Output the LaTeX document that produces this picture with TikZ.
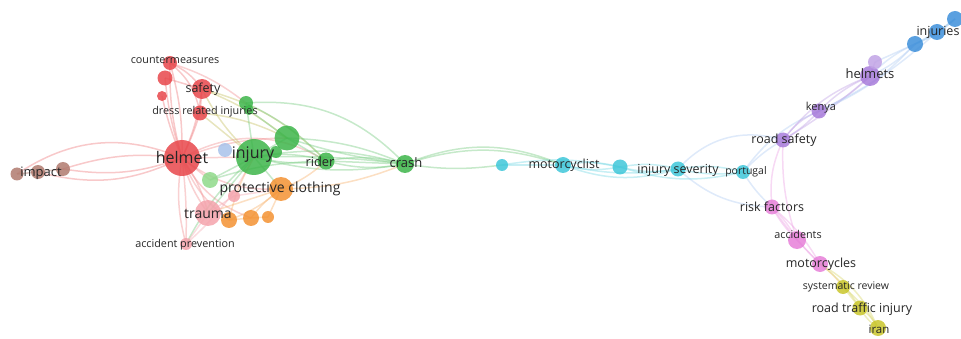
\documentclass[tikz,border=0pt]{standalone}
\usepackage{fontspec}
\setmainfont{Open Sans}
\begin{document}
\begin{tikzpicture}[x=1pt,y=1pt,
  e/.style={line width=1.5pt, draw opacity=0.42},
  vn/.style={circle, inner sep=0pt, fill opacity=0.85, draw=none},
  lb/.style={text=black!85, inner sep=0pt, font=\fontsize{#1}{#1}\selectfont},
  lb/.default=12.5]
\definecolor{cred}{HTML}{E8474B}
\definecolor{cbrown}{HTML}{B07A6E}
\definecolor{cgreen}{HTML}{3DB54A}
\definecolor{clgreen}{HTML}{8FD98A}
\definecolor{clblue}{HTML}{A8C2EA}
\definecolor{corange}{HTML}{F39232}
\definecolor{cpink}{HTML}{F4A3AC}
\definecolor{ccyan}{HTML}{3FC7D9}
\definecolor{cpurple}{HTML}{A77BDA}
\definecolor{cblue}{HTML}{3D8FDA}
\definecolor{cmag}{HTML}{E67FD8}
\definecolor{colive}{HTML}{C9C62B}
\definecolor{cskye}{HTML}{9FC0F0}
\useasboundingbox (0,0) rectangle (961,-339);
% coordinates
\coordinate (helmet) at (182,-158);
\coordinate (cm) at (170,-63);
\coordinate (r2) at (165,-78);
\coordinate (r3) at (162,-96);
\coordinate (safety) at (202,-89);
\coordinate (dress) at (200,-113);
\coordinate (im1) at (17,-174);
\coordinate (im2) at (38,-172);
\coordinate (im3) at (63,-169);
\coordinate (lbn) at (225,-150);
\coordinate (injury) at (254,-157);
\coordinate (g2) at (287,-138);
\coordinate (g3) at (276,-152);
\coordinate (g4) at (246,-103);
\coordinate (g5) at (249,-110);
\coordinate (rider) at (326,-161);
\coordinate (crash) at (405,-164);
\coordinate (lg) at (210,-180);
\coordinate (pc) at (281,-189);
\coordinate (o1) at (229,-220);
\coordinate (o2) at (251,-218);
\coordinate (o3) at (268,-217);
\coordinate (trauma) at (208,-213);
\coordinate (pk) at (234,-196);
\coordinate (ap) at (186,-244);
\coordinate (c1) at (502,-165);
\coordinate (mc) at (563,-165);
\coordinate (c3) at (620,-167);
\coordinate (is) at (678,-169);
\coordinate (pt) at (743,-172);
\coordinate (rs) at (783,-140);
\coordinate (ke) at (819,-111);
\coordinate (hs) at (870,-76);
\coordinate (hs2) at (875,-62);
\coordinate (in1) at (915,-44);
\coordinate (in2) at (937,-32);
\coordinate (in3) at (955,-19);
\coordinate (rf) at (772,-207);
\coordinate (ac) at (797,-240);
\coordinate (mcs) at (820,-264);
\coordinate (sr) at (843,-287);
\coordinate (rti) at (860,-308);
\coordinate (ir) at (878,-328);
% edges: brown/red
\draw[e,cred!70] (helmet) to[bend right=28] (im1);
\draw[e,cred!70] (helmet) to[bend right=12] (im3);
\draw[e,cred!70] (helmet) to[bend left=14] (im3);
\draw[e,cred!70] (helmet) to[bend left=20] (im2);
\draw[e,cbrown] (im1) -- (im2) -- (im3);
\draw[e,cred!70] (helmet) to[bend left=8] (cm);
\draw[e,cred!70] (helmet) to[bend right=8] (cm);
\draw[e,cred!70] (helmet) to[bend left=6] (r2);
\draw[e,cred!70] (helmet) to[bend left=5] (r3);
\draw[e,cred!70] (helmet) to[bend right=8] (safety);
\draw[e,cred!70] (helmet) to[bend right=4] (dress);
\draw[e,cred!70] (cm) to[bend left=15] (safety);
\draw[e,cred!70] (r2) -- (safety);
\draw[e,cred!70] (safety) -- (dress);
\draw[e,cred!70] (cm) to[bend left=20] (dress);
\draw[e,cred!60] (helmet) -- (injury);
\draw[e,cred!60] (helmet) to[bend left=30] (rider);
\draw[e,cred!60] (helmet) to[bend right=20] (pc);
\draw[e,cred!60] (helmet) to[bend right=10] (trauma);
\draw[e,cred!60] (helmet) to[bend left=10] (trauma);
\draw[e,cred!60] (helmet) to[bend right=12] (ap);
\draw[e,cred!60] (helmet) to[bend left=4] (ap);
\draw[e,cred!60] (helmet) to[bend right=15] (o1);
\draw[e,cred!60] (helmet) to[bend right=20] (o2);
\draw[e,cred!60] (helmet) to[bend left=10] (g2);
\draw[e,cred!60] (helmet) -- (lg);
\draw[e,olive!50] (safety) to[bend left=15] (rider);
\draw[e,olive!50] (safety) to[bend left=8] (g2);
\draw[e,olive!50] (safety) to[bend right=10] (injury);
\draw[e,olive!50] (dress) -- (injury);
\draw[e,olive!50] (dress) to[bend left=10] (g2);
\draw[e,cred!60] (cm) to[bend left=10] (g4);
% green
\draw[e,cgreen!70] (injury) to[bend left=12] (rider);
\draw[e,cgreen!70] (injury) to[bend right=10] (rider);
\draw[e,cgreen!70] (injury) to[bend left=12] (crash);
\draw[e,cgreen!70] (injury) to[bend right=12] (crash);
\draw[e,cgreen!70] (injury) to[bend left=4] (crash);
\draw[e,cgreen!70] (g2) to[bend left=10] (crash);
\draw[e,cgreen!70] (g2) to[bend right=5] (crash);
\draw[e,cgreen!70] (g2) -- (rider);
\draw[e,cgreen!70] (g2) -- (injury);
\draw[e,cgreen!70] (rider) to[bend left=12] (crash);
\draw[e,cgreen!70] (rider) to[bend right=12] (crash);
\draw[e,cgreen!70] (rider) -- (crash);
\draw[e,cgreen!70] (g4) to[bend left=25] (crash);
\draw[e,cgreen!70] (g4) to[bend left=10] (rider);
\draw[e,cgreen!70] (g4) -- (injury);
\draw[e,cgreen!70] (g5) -- (g2);
\draw[e,cgreen!70] (injury) -- (lg);
\draw[e,cgreen!70] (injury) -- (trauma);
\draw[e,cgreen!70] (injury) -- (pc);
\draw[e,cgreen!70] (injury) to[bend right=10] (ap);
\draw[e,cgreen!70] (lg) to[bend left=8] (rider);
\draw[e,cgreen!70] (crash) to[bend left=18] (mc);
\draw[e,cgreen!70] (crash) to[bend left=22] (mc);
\draw[e,cgreen!70] (crash) to[bend right=8] (c1);
% orange / pink
\draw[e,corange!70] (pc) -- (trauma);
\draw[e,corange!70] (pc) -- (o3);
\draw[e,corange!70] (pc) to[bend right=8] (o2);
\draw[e,corange!70] (pc) to[bend left=10] (o1);
\draw[e,corange!70] (pc) to[bend right=10] (rider);
\draw[e,corange!70] (pc) to[bend right=10] (crash);
\draw[e,corange!70] (o1) -- (o2) -- (o3);
\draw[e,corange!70] (o1) to[bend left=8] (injury);
\draw[e,cpink!90] (trauma) -- (ap);
\draw[e,cpink!90] (trauma) -- (pk);
\draw[e,cpink!90] (pk) -- (pc);
\draw[e,cpink!90] (ap) to[bend right=10] (injury);
% cyan
\draw[e,ccyan!70] (c1) -- (mc);
\draw[e,ccyan!70] (c1) to[bend left=10] (c3);
\draw[e,ccyan!70] (mc) to[bend left=12] (c3);
\draw[e,ccyan!70] (mc) to[bend right=12] (c3);
\draw[e,ccyan!70] (mc) to[bend right=18] (is);
\draw[e,ccyan!70] (mc) to[bend right=10] (is);
\draw[e,ccyan!70] (c3) to[bend left=12] (is);
\draw[e,ccyan!70] (c3) to[bend right=12] (is);
\draw[e,ccyan!70] (c3) to[bend right=15] (pt);
\draw[e,ccyan!70] (is) to[bend left=12] (pt);
\draw[e,ccyan!70] (is) to[bend right=10] (pt);
\draw[e,cskye!80] (is) to[bend left=32] (rs);
\draw[e,cskye!80] (pt) to[bend left=8] (rs);
\draw[e,cskye!80] (pt) to[bend left=15] (ke);
\draw[e,cskye!80] (is) to[bend right=20] (rf);
\draw[e,cskye!80] (pt) to[bend right=8] (rf);
% purple / blue
\draw[e,cpurple!70] (rs) to[bend left=15] (ke);
\draw[e,cpurple!70] (rs) to[bend right=8] (ke);
\draw[e,cpurple!70] (rs) to[bend left=15] (hs);
\draw[e,cpurple!70] (rs) to[bend right=5] (hs);
\draw[e,cpurple!70] (ke) to[bend left=10] (hs);
\draw[e,cpurple!70] (ke) to[bend right=10] (hs);
\draw[e,cpurple!70] (hs) -- (hs2);
\draw[e,cskye!80] (hs) to[bend left=10] (in1);
\draw[e,cskye!80] (hs) to[bend right=10] (in1);
\draw[e,cskye!80] (ke) to[bend right=12] (in1);
\draw[e,cskye!80] (ke) to[bend right=8] (in2);
\draw[e,cskye!80] (hs2) -- (in1);
\draw[e,cblue!60] (in1) -- (in2) -- (in3);
\draw[e,cblue!60] (in1) to[bend right=10] (in3);
% magenta / olive
\draw[e,cmag!70] (rs) to[bend right=15] (rf);
\draw[e,cmag!70] (rf) to[bend left=8] (ac);
\draw[e,cmag!70] (rf) to[bend right=8] (ac);
\draw[e,cmag!70] (ac) -- (mcs);
\draw[e,cmag!70] (rf) to[bend left=10] (mcs);
\draw[e,cmag!70] (rf) to[bend right=5] (mcs);
\draw[e,cmag!70] (rs) to[bend right=10] (ac);
\draw[e,corange!60] (mcs) to[bend left=8] (sr);
\draw[e,colive!70] (mcs) to[bend left=10] (rti);
\draw[e,colive!70] (sr) -- (rti);
\draw[e,colive!70] (rti) to[bend left=12] (ir);
\draw[e,colive!70] (rti) to[bend right=12] (ir);
\draw[e,colive!70] (sr) to[bend left=10] (ir);
\draw[e,colive!70] (mcs) to[bend left=18] (ir);
% nodes
\node[vn,fill=cred,minimum size=36pt] (nhelmet) at (helmet) {};
\node[vn,fill=cred,minimum size=14pt] (ncm) at (cm) {};
\node[vn,fill=cred,minimum size=15pt] (nr2) at (r2) {};
\node[vn,fill=cred,minimum size=10pt] (nr3) at (r3) {};
\node[vn,fill=cred,minimum size=20pt] (nsafety) at (safety) {};
\node[vn,fill=cred,minimum size=15pt] (ndress) at (dress) {};
\node[vn,fill=cbrown,minimum size=13pt] (nim1) at (im1) {};
\node[vn,fill=cbrown,minimum size=14pt] (nim2) at (im2) {};
\node[vn,fill=cbrown,minimum size=14pt] (nim3) at (im3) {};
\node[vn,fill=clblue,minimum size=14pt] (nlbn) at (lbn) {};
\node[vn,fill=cgreen,minimum size=36pt] (ninjury) at (injury) {};
\node[vn,fill=cgreen,minimum size=25pt] (ng2) at (g2) {};
\node[vn,fill=cgreen,minimum size=12pt] (ng3) at (g3) {};
\node[vn,fill=cgreen,minimum size=14pt] (ng4) at (g4) {};
\node[vn,fill=cgreen,minimum size=10pt] (ng5) at (g5) {};
\node[vn,fill=cgreen,minimum size=17pt] (nrider) at (rider) {};
\node[vn,fill=cgreen,minimum size=18pt] (ncrash) at (crash) {};
\node[vn,fill=clgreen,minimum size=16pt] (nlg) at (lg) {};
\node[vn,fill=corange,minimum size=24pt] (npc) at (pc) {};
\node[vn,fill=corange,minimum size=16pt] (no1) at (o1) {};
\node[vn,fill=corange,minimum size=16pt] (no2) at (o2) {};
\node[vn,fill=corange,minimum size=12pt] (no3) at (o3) {};
\node[vn,fill=cpink,minimum size=26pt] (ntrauma) at (trauma) {};
\node[vn,fill=cpink,minimum size=12pt] (npk) at (pk) {};
\node[vn,fill=cpink,minimum size=12pt] (nap) at (ap) {};
\node[vn,fill=ccyan,minimum size=12pt] (nc1) at (c1) {};
\node[vn,fill=ccyan,minimum size=16pt] (nmc) at (mc) {};
\node[vn,fill=ccyan,minimum size=15pt] (nc3) at (c3) {};
\node[vn,fill=ccyan,minimum size=15pt] (nis) at (is) {};
\node[vn,fill=ccyan,minimum size=14pt] (npt) at (pt) {};
\node[vn,fill=cpurple,minimum size=15pt] (nrs) at (rs) {};
\node[vn,fill=cpurple,minimum size=15pt] (nke) at (ke) {};
\node[vn,fill=cpurple,minimum size=20pt] (nhs) at (hs) {};
\node[vn,fill=cpurple!70,minimum size=14pt] (nhs2) at (hs2) {};
\node[vn,fill=cblue,minimum size=16pt] (nin1) at (in1) {};
\node[vn,fill=cblue,minimum size=16pt] (nin2) at (in2) {};
\node[vn,fill=cblue,minimum size=16pt] (nin3) at (in3) {};
\node[vn,fill=cmag,minimum size=15pt] (nrf) at (rf) {};
\node[vn,fill=cmag,minimum size=18pt] (nac) at (ac) {};
\node[vn,fill=cmag,minimum size=16pt] (nmcs) at (mcs) {};
\node[vn,fill=colive,minimum size=14pt] (nsr) at (sr) {};
\node[vn,fill=colive,minimum size=15pt] (nrti) at (rti) {};
\node[vn,fill=colive,minimum size=16pt] (nir) at (ir) {};
% labels
\node[lb=16] (thelmet) at (182,-158) {helmet};
\node[lb=16] (tinjury) at (253,-155) {injury};
\node[lb=10.8] (tcm) at (175,-60) {countermeasures};
\node[lb=12.5] (tsafety) at (203,-89) {safety};
\node[lb=10.8] (tdress) at (205,-112) {dress related injuries};
\node[lb=13] (timpact) at (41,-173) {impact};
\node[lb=12.8] (trider) at (320,-162) {rider};
\node[lb=13] (tcrash) at (406,-163) {crash};
\node[lb=14] (tpc) at (280,-189) {protective clothing};
\node[lb=14] (ttrauma) at (208,-214) {trauma};
\node[lb=10.8] (tap) at (185,-245) {accident prevention};
\node[lb=12.5] (tmc) at (564,-165) {motorcyclist};
\node[lb=12.5] (tis) at (678,-170) {injury severity};
\node[lb=10.5] (tpt) at (746,-172) {portugal};
\node[lb=12.5] (trs) at (784,-140) {road safety};
\node[lb=11] (tke) at (821,-108) {kenya};
\node[lb=13] (ths) at (870,-74) {helmets};
\node[lb=12.5] (tin) at (938,-32) {injuries};
\node[lb=12.5] (trf) at (772,-207) {risk factors};
\node[lb=10.8] (tac) at (798,-234) {accidents};
\node[lb=12.5] (tmcs) at (821,-264) {motorcycles};
\node[lb=10.5] (tsr) at (846,-287) {systematic review};
\node[lb=12.5] (trti) at (862,-309) {road traffic injury};
\node[lb=11.5] (tir) at (879,-329) {iran};
\end{tikzpicture}
\end{document}
